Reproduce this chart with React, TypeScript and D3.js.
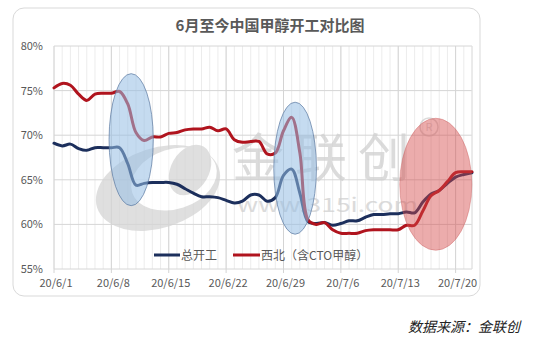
import React from "react";
import * as d3 from "d3";

const title = "6月至今中国甲醇开工对比图";
const seriesNames = ["总开工", "西北（含CTO甲醇）"];
const seriesColors = ["#1c2f5c", "#b0141e"];
const startDate = new Date(2020, 5, 1);
const endDate = new Date(2020, 6, 22);
const dates = d3.timeDay.range(startDate, d3.timeDay.offset(endDate, 1));

const totalRate = [
  69.1, 68.8, 69.0, 68.5, 68.3, 68.6, 68.6, 68.6, 68.6, 66.8,
  64.4, 64.6, 64.7, 64.7, 64.7, 64.5, 64.0, 63.5, 63.1, 63.1,
  63.0, 62.7, 62.4, 62.6, 63.3, 63.3, 62.6, 63.0, 65.5, 66.2,
  63.5, 60.3, 60.1, 60.2, 59.9, 60.1, 60.4, 60.4, 60.8, 61.1,
  61.1, 61.2, 61.2, 61.4, 61.3, 62.5, 63.4, 63.8, 64.6, 65.3,
  65.6, 65.8,
];
const northwestRate = [
  75.3, 75.8, 75.6, 74.6, 73.9, 74.6, 74.7, 74.7, 74.9, 73.5,
  70.3, 69.4, 69.8, 69.8, 70.2, 70.3, 70.6, 70.7, 70.7, 70.9,
  70.5, 70.7, 69.5, 69.2, 69.3, 69.3, 67.9, 68.0, 70.5, 72.0,
  68.0, 60.5, 60.0, 60.2, 59.4, 59.0, 59.0, 59.0, 59.3, 59.4,
  59.4, 59.4, 59.4, 59.9, 59.9, 61.5, 63.2, 63.8, 64.8, 65.8,
  65.9, 65.9,
];
const yTicks = [55, 60, 65, 70, 75, 80];
const xTickDates = [
  new Date(2020, 5, 1), new Date(2020, 5, 8), new Date(2020, 5, 15), new Date(2020, 5, 22),
  new Date(2020, 5, 29), new Date(2020, 6, 6), new Date(2020, 6, 13), new Date(2020, 6, 20),
];
// annotation ellipses: center date, center value, half-width in days, half-height in %
const ellipseCenterDates = [new Date(2020, 5, 10, 10), new Date(2020, 5, 30, 10), new Date(2020, 6, 17, 14)];
const ellipseCenterValues = [69.5, 66.3, 64.5];
const ellipseDayRadii = [2.7, 2.6, 4.4];
const ellipseValueRadii = [7.4, 7.4, 7.4];
const ellipseFills = ["rgba(150,190,228,0.55)", "rgba(150,190,228,0.55)", "rgba(212,70,70,0.45)"];
const ellipseStrokes = ["rgba(90,120,160,0.7)", "rgba(90,120,160,0.7)", "rgba(200,90,90,0.4)"];

const W = 536;
const H = 337;
const font = "'Noto Sans CJK SC', 'Noto Sans', sans-serif";

export default function App() {
  const x = d3.scaleTime().domain([startDate, endDate]).range([54, 472]);
  const y = d3.scaleLinear().domain([55, 80]).range([269, 46]);
  const dayPx = x(d3.timeDay.offset(startDate, 1)) - x(startDate);
  const pctPx = y(0) - y(1);

  const line = d3
    .line<number>()
    .x((_, i) => x(dates[i]))
    .y((v) => y(v))
    .curve(d3.curveCatmullRom.alpha(0.5));

  const series = [totalRate, northwestRate];

  return (
    <svg width={W} height={H} style={{ position: "absolute", left: 0, top: 0, background: "#fff" }}>
      <rect x={0} y={0} width={W} height={H} fill="#fff" />
      <rect x={13} y={8} width={467} height={288} rx={11} fill="#fff" stroke="#d9d9d9" strokeWidth={1} />
      <text x={270} y={31} textAnchor="middle" fontFamily={font} fontSize={15} fontWeight="bold" fill="#595959">
        {title}
      </text>

      {/* minor daily gridlines */}
      {dates.map((d, i) => (
        <line key={"m" + i} x1={x(d)} x2={x(d)} y1={y(80)} y2={y(55)} stroke="#ececec" strokeWidth={1} />
      ))}
      {xTickDates.map((d, i) => (
        <line key={"M" + i} x1={x(d)} x2={x(d)} y1={y(80)} y2={y(55) + 4} stroke="#d4d4d4" strokeWidth={1} />
      ))}
      {yTicks.map((t) => (
        <line key={"h" + t} x1={x(startDate)} x2={x(endDate)} y1={y(t)} y2={y(t)} stroke="#d6d6d6" strokeWidth={1} />
      ))}
      <line x1={x(endDate)} x2={x(endDate)} y1={y(80)} y2={y(55)} stroke="#e0e0e0" />

      {/* watermark */}
      <g opacity={0.75}>
        <ellipse cx={158} cy={188} rx={64} ry={40} transform="rotate(-18 158 188)" fill="#d5d5d5" />
        <ellipse cx={174} cy={179} rx={44} ry={30} transform="rotate(-18 174 179)" fill="#fff" />
        <ellipse cx={190} cy={170} rx={19} ry={27} transform="rotate(30 190 170)" fill="#d5d5d5" />
        <text x={232} y={177} fontFamily={font} fontSize={52} fill="#d0d0d0" textLength={178} lengthAdjust="spacing">
          金联创
        </text>
        <text x={237} y={212} fontFamily={font} fontSize={19} fill="#d0d0d0" textLength={181} lengthAdjust="spacingAndGlyphs">
          www.315i.com
        </text>
        <circle cx={429} cy={127} r={9} fill="none" stroke="#cfcfcf" strokeWidth={1.5} />
        <text x={429} y={131} textAnchor="middle" fontFamily={font} fontSize={11} fill="#cfcfcf">
          R
        </text>
      </g>

      {/* series */}
      {series.map((s, k) => (
        <path key={"s" + k} d={line(s) || ""} fill="none" stroke={seriesColors[k]} strokeWidth={3} strokeLinejoin="round" strokeLinecap="round" />
      ))}

      {/* annotation ellipses */}
      {ellipseCenterDates.map((d, i) => (
        <ellipse
          key={"e" + i}
          cx={x(d)}
          cy={y(ellipseCenterValues[i])}
          rx={ellipseDayRadii[i] * dayPx}
          ry={ellipseValueRadii[i] * pctPx}
          fill={ellipseFills[i]}
          stroke={ellipseStrokes[i]}
          strokeWidth={1}
        />
      ))}

      {/* y axis labels */}
      {yTicks.map((t) => (
        <text key={"yl" + t} x={43} y={y(t) + 4} textAnchor="end" fontFamily={font} fontSize={11} fill="#595959">
          {t}%
        </text>
      ))}
      {/* x axis labels */}
      {xTickDates.map((d, i) => (
        <text key={"xl" + i} x={x(d) + 2} y={287} textAnchor="middle" fontFamily={font} fontSize={11} fill="#595959">
          {`20/${d.getMonth() + 1}/${d.getDate()}`}
        </text>
      ))}

      {/* legend */}
      <line x1={154} x2={180} y1={255} y2={255} stroke={seriesColors[0]} strokeWidth={3} />
      <text x={181} y={259.5} fontFamily={font} fontSize={12} fill="#595959">{seriesNames[0]}</text>
      <line x1={233} x2={260} y1={255} y2={255} stroke={seriesColors[1]} strokeWidth={3} />
      <text x={261} y={259.5} fontFamily={font} fontSize={12} fill="#595959">{seriesNames[1]}</text>

      <text x={520} y={332} textAnchor="end" fontFamily={font} fontSize={14} fontStyle="italic" fill="#222">
        数据来源：金联创
      </text>
    </svg>
  );
}
